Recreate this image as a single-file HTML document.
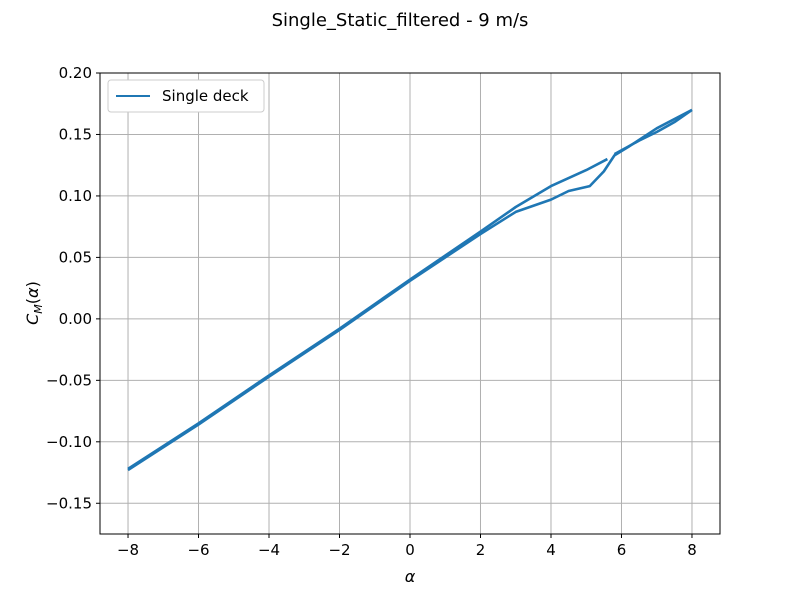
<!DOCTYPE html>
<html><head><meta charset="utf-8"><style>
body{margin:0;background:#fff}
svg text{font-family:"DejaVu Sans","Liberation Sans",sans-serif;fill:#000}
</style></head><body>
<svg id="c" width="800" height="600">
<text x="400" y="26" font-size="18" text-anchor="middle">Single_Static_filtered - 9 m/s</text>
</svg>
<script>
const xTicks=[-8,-6,-4,-2,0,2,4,6,8];
const yTicks=[-0.15,-0.10,-0.05,0.00,0.05,0.10,0.15,0.20];
const upAlpha=[-8,-6,-4,-2,0,2,3,4,5,5.6];
const upCM=[-0.122,-0.085,-0.046,-0.008,0.032,0.071,0.091,0.108,0.121,0.130];
const downAlpha=[8,7,6.2,5.8,5.5,5.1,4.5,4,3,2,1,0,-2,-4,-6,-8];
const downCM=[0.170,0.155,0.140,0.133,0.120,0.108,0.104,0.097,0.087,0.069,0.050,0.031,-0.009,-0.047,-0.086,-0.123];
const tipAlpha=[5.8,6.5,7,7.5,8];
const tipCM=[0.134,0.145,0.152,0.160,0.170];
const L=100,R=720,T=73,B=534;
const xmin=-8.795,xmax=8.795,ymin=-0.175,ymax=0.20;
const X=v=>L+(v-xmin)/(xmax-xmin)*(R-L);
const Y=v=>B-(v-ymin)/(ymax-ymin)*(B-T);
const svg=document.getElementById('c');const NS='http://www.w3.org/2000/svg';
function mk(t,a){const e=document.createElementNS(NS,t);for(const k in a)e.setAttribute(k,a[k]);svg.appendChild(e);return e;}
xTicks.forEach(v=>{
 const g=mk('line',{x1:X(v),x2:X(v),y1:T,y2:B,stroke:'#b0b0b0','stroke-width':1});
 
 
 mk('line',{x1:X(v),x2:X(v),y1:B,y2:B+4,stroke:'#000'});
 const t=mk('text',{x:X(v),y:B+21,'font-size':15,'text-anchor':'middle'});
 t.textContent=(v<0?'−'+(-v):v);
 
 
});
yTicks.forEach(v=>{
 const g=mk('line',{x1:L,x2:R,y1:Y(v),y2:Y(v),stroke:'#b0b0b0','stroke-width':1});
 
 
 mk('line',{x1:L-4,x2:L,y1:Y(v),y2:Y(v),stroke:'#000'});
 const t=mk('text',{x:L-8,y:Y(v)+5,'font-size':15,'text-anchor':'end'});
 t.textContent=(v<0?'−':'')+Math.abs(v).toFixed(2);
 
 
});
function series(a,c,name){
 const p=mk('polyline',{points:a.map((v,i)=>X(v)+','+Y(c[i])).join(' '),fill:'none',stroke:'#1f77b4','stroke-width':2.6,'stroke-linejoin':'round'});
 
 
}
series(upAlpha,upCM,'series-single-deck-up');
series(downAlpha,downCM,'series-single-deck-down');
series(tipAlpha,tipCM,'series-single-deck-tip');
const fr=mk('rect',{x:L,y:T,width:R-L,height:B-T,fill:'none',stroke:'#000','stroke-width':1});


const xl=mk('text',{x:410,y:582,'font-size':16,'text-anchor':'middle','font-style':'italic'});
xl.textContent='α';


const yl=mk('text',{x:0,y:0,'font-size':16,'text-anchor':'middle',transform:'translate(38,303) rotate(-90)'});
yl.innerHTML='<tspan font-style="italic">C</tspan><tspan font-style="italic" font-size="11" dy="4">M</tspan><tspan dy="-4">(</tspan><tspan font-style="italic">α</tspan>)';


const lg=mk('rect',{x:108,y:80,width:156,height:32,rx:3,fill:'#fff',stroke:'#ccc'});


const ll=mk('line',{x1:116,x2:150,y1:96,y2:96,stroke:'#1f77b4','stroke-width':2});


const lt=mk('text',{x:162,y:101,'font-size':15});
lt.textContent='Single deck';


</script>
</body></html>
